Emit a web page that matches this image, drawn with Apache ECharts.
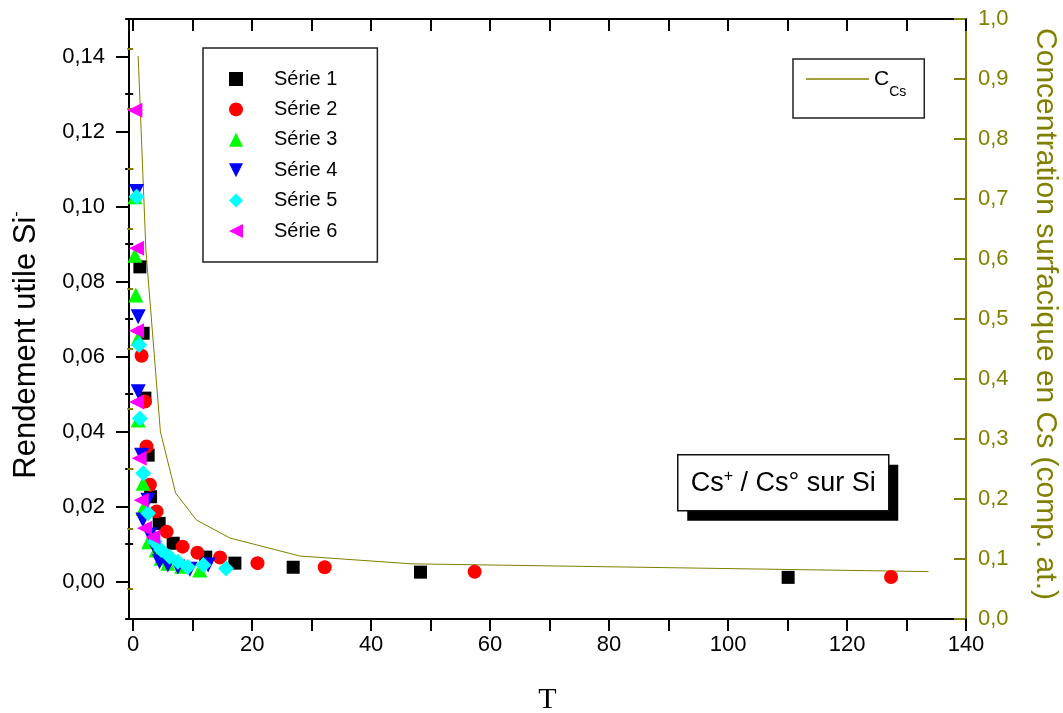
<!DOCTYPE html>
<html><head><meta charset="utf-8">
<script src="https://cdn.jsdelivr.net/npm/echarts@6/dist/echarts.min.js"></script>
<style>html,body{margin:0;padding:0;background:#fff}#c{width:1063px;height:713px}</style>
</head><body><div id="c"></div>
<script>
// ---- data (T, rendement utile) ----
const serie1 = [[1.13,0.0839],[1.68,0.0662],[1.97,0.0489],[2.52,0.0337],[2.93,0.0226],[4.37,0.0155],[6.73,0.0102],[12.2,0.0065],[17.1,0.0049],[26.9,0.0038],[48.3,0.0025],[110.1,0.0011]];
const serie2 = [[1.41,0.0602],[1.97,0.048],[2.25,0.036],[2.81,0.0258],[3.94,0.0187],[5.62,0.0133],[8.31,0.0093],[10.8,0.0077],[14.6,0.0064],[20.9,0.0049],[32.2,0.0038],[57.4,0.0026],[127.4,0.0012]];
const serie3 = [[0.29,0.1026],[0.29,0.087],[0.45,0.0764],[0.84,0.0649],[0.84,0.0431],[1.68,0.0262],[1.68,0.0195],[2.59,0.0106],[3.87,0.0084],[4.71,0.0062],[5.84,0.0049],[8.14,0.0041],[11.2,0.0031]];
const serie4 = [[0.57,0.104],[0.84,0.0706],[0.84,0.0506],[1.41,0.0337],[2.47,0.0217],[1.63,0.0164],[2.8,0.0124],[3.65,0.0089],[4.44,0.0053],[5.84,0.0044],[7.52,0.0039],[9.54,0.0033],[12.6,0.0044]];
const serie5 = [[0.57,0.1026],[1.01,0.0631],[1.13,0.0435],[1.68,0.0289],[2.52,0.0182],[3.6,0.0106],[4.71,0.0084],[6.12,0.0066],[7.52,0.0053],[9.2,0.0039],[11.8,0.0044],[15.6,0.0035]];
const serie6 = [[0.29,0.1257],[0.57,0.0889],[0.57,0.0669],[0.57,0.0479],[1.01,0.0329],[1.35,0.0217],[1.92,0.0142],[3.31,0.0119]];
// ---- C_Cs (T, concentration) ----
const cCs = [[0.84,0.938],[2.14,0.615],[4.58,0.312],[7.13,0.21],[10.63,0.165],[16.27,0.135],[28.0,0.105],[46.7,0.092],[133.7,0.079]];
// ---- ticks ----
const xTicks = [0,10,20,30,40,50,60,70,80,90,100,110,120,130,140];
const xLabels = [0,20,40,60,80,100,120,140];
const yLeftMajor = [0,0.02,0.04,0.06,0.08,0.10,0.12,0.14];
const yLeftMinor = [-0.01,0.01,0.03,0.05,0.07,0.09,0.11,0.13,0.15];
const yRightMajor = [0,0.1,0.2,0.3,0.4,0.5,0.6,0.7,0.8,0.9,1.0];
const yRightMinor = [0.05,0.15,0.25,0.35,0.45,0.55,0.65,0.75,0.85,0.95];
const seriesNames = ['Série 1','Série 2','Série 3','Série 4','Série 5','Série 6'];

const OLIVE = '#808000';
const FONT = 'Liberation Sans, Arial, sans-serif';
const DOWN = 'path://M0,0L20,0L10,20Z';
const LEFT = 'path://M0,10L20,0L20,20Z';
const chart = echarts.init(document.getElementById('c'), null, {renderer:'canvas'});

const sc = (name, data, color, symbol, size) => ({
  name, type:'scatter', data, xAxisIndex:0, yAxisIndex:0,
  symbol, symbolSize:size,
  itemStyle:{color, opacity:1}, emphasis:{disabled:true}
});

chart.setOption({
  animation:false,
  backgroundColor:'#fff',
  grid:{left:129, right:97, top:19, bottom:94, containLabel:false, outerBoundsMode:'none'},
  xAxis:[
    {type:'value', position:'bottom', min:-0.7, max:140,
     axisLine:{show:true, onZero:false, lineStyle:{color:'#000', width:2}},
     axisTick:{show:true, customValues:xTicks, length:12, inside:false, lineStyle:{color:'#000', width:2}},
     axisLabel:{show:true, customValues:xLabels, fontSize:22, fontFamily:FONT, color:'#000', margin:15},
     splitLine:{show:false},
     name:'T', nameLocation:'middle', nameGap:66,
     nameTextStyle:{fontFamily:'Liberation Serif, Times New Roman, serif', fontSize:30, color:'#000'}},
    {type:'value', position:'top', min:-0.7, max:140,
     axisLine:{show:true, onZero:false, lineStyle:{color:'#000', width:2}},
     axisTick:{show:true, customValues:xTicks, length:12, inside:true, lineStyle:{color:'#000', width:2}},
     axisLabel:{show:false}, splitLine:{show:false}}
  ],
  yAxis:[
    {type:'value', position:'left', offset:0, min:-0.01, max:0.15,
     axisLine:{show:true, onZero:false, lineStyle:{color:'#000', width:2}},
     axisTick:{show:true, customValues:yLeftMajor, length:13, inside:false, lineStyle:{color:'#000', width:2}},
     axisLabel:{show:true, customValues:yLeftMajor, fontSize:22, fontFamily:FONT, color:'#000', margin:24,
       formatter:v=>v.toFixed(2).replace('.',',')},
     splitLine:{show:false},
     name:'{a|Rendement utile Si}{s|-}', nameLocation:'middle', nameGap:86, nameRotate:90,
     nameTextStyle:{color:'#000', padding:[0,52,0,0],
       rich:{a:{fontSize:31, fontFamily:FONT, color:'#000', lineHeight:34},
             s:{fontSize:16, fontFamily:FONT, color:'#000', verticalAlign:'top', lineHeight:16}}}},
    {type:'value', position:'left', offset:0, min:-0.01, max:0.15,
     axisLine:{show:false},
     axisTick:{show:true, customValues:yLeftMinor, length:8, inside:false, lineStyle:{color:'#000', width:2}},
     axisLabel:{show:false}, splitLine:{show:false}},
    {type:'value', position:'right', offset:0, min:0, max:1,
     axisLine:{show:true, onZero:false, lineStyle:{color:OLIVE, width:2}},
     axisTick:{show:true, customValues:yRightMajor, length:12, inside:true, lineStyle:{color:OLIVE, width:2}},
     axisLabel:{show:true, customValues:yRightMajor, fontSize:22, fontFamily:FONT, color:OLIVE, margin:12,
       formatter:v=>v.toFixed(1).replace('.',',')},
     splitLine:{show:false},
     name:'Concentration surfacique en Cs (comp. at.)', nameLocation:'middle', nameGap:64, nameRotate:-90,
     nameTextStyle:{fontSize:30, fontFamily:FONT, color:OLIVE, padding:[0,10,0,0]}},
    {type:'value', position:'right', offset:0, min:0, max:1,
     axisLine:{show:false},
     axisTick:{show:true, customValues:yRightMinor, length:6, inside:true, lineStyle:{color:OLIVE, width:2}},
     axisLabel:{show:false}, splitLine:{show:false}}
  ],
  legend:[
    {show:true, orient:'vertical', left:203, top:48, data:seriesNames,
     itemWidth:14, itemHeight:14, itemGap:10.4,
     padding:[21,40,21,26], borderColor:'#222', borderWidth:1.5, backgroundColor:'#fff',
     textStyle:{fontSize:20, fontFamily:FONT, color:'#000', lineHeight:20, padding:[0,0,0,26]}},
    {show:true, orient:'vertical', left:793, top:59, data:[{name:'C_Cs', icon:'rect'}],
     itemWidth:63, itemHeight:1.5,
     padding:[0,18,19,13], borderColor:'#222', borderWidth:1.5, backgroundColor:'#fff',
     formatter:()=>'{c|C}{s|Cs}',
     textStyle:{color:'#000', rich:{
       c:{fontSize:21, fontFamily:FONT, color:'#000', lineHeight:22},
       s:{fontSize:14, fontFamily:FONT, color:'#000', lineHeight:14, padding:[26,0,0,0]}}}}
  ],
  graphic:[
    {type:'group', left:677, top:454, children:[
      {type:'rect', shape:{x:9.5, y:10, width:211, height:56}, style:{fill:'#000'}},
      {type:'rect', shape:{x:0, y:0, width:211, height:56}, style:{fill:'#fff', stroke:'#111', lineWidth:1.5}},
      {type:'text', x:105.5, y:29, style:{text:'{a|Cs}{s|+}{a| / Cs° sur Si}', textAlign:'center', textVerticalAlign:'middle',
        rich:{a:{fontSize:27, fontFamily:FONT, fill:'#000', lineHeight:30},
              s:{fontSize:16, fontFamily:FONT, fill:'#000', lineHeight:16, verticalAlign:'top'}}}}
    ]}
  ],
  series:[
    {name:'C_Cs', type:'line', data:cCs, xAxisIndex:0, yAxisIndex:2, symbol:'none', smooth:false,
     lineStyle:{color:OLIVE, width:1}, itemStyle:{color:OLIVE}, emphasis:{disabled:true}, z:1},
    sc('Série 1', serie1, '#000000', 'rect', 13),
    sc('Série 2', serie2, '#ff0000', 'circle', 14),
    sc('Série 3', serie3, '#00ff00', 'triangle', 15),
    sc('Série 4', serie4, '#0000ff', DOWN, 15),
    sc('Série 5', serie5, '#00ffff', 'diamond', 16),
    sc('Série 6', serie6, '#ff00ff', LEFT, 15)
  ]
});
</script></body></html>
